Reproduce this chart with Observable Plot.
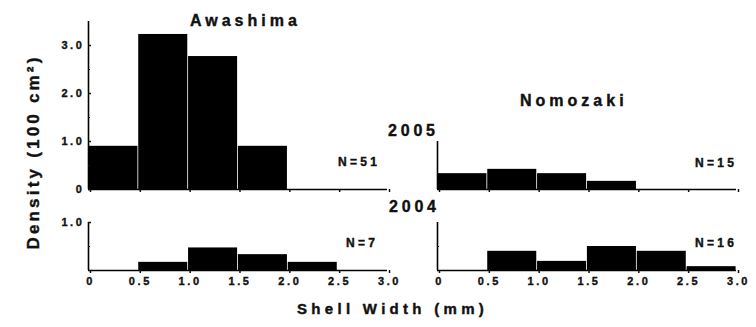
<!DOCTYPE html>
<html><head><meta charset="utf-8">
<script src="https://cdn.jsdelivr.net/npm/d3@7"></script>
<script src="https://cdn.jsdelivr.net/npm/@observablehq/plot@0.6"></script>
<style>
html,body{margin:0;padding:0;background:#fff;}
#chart{position:relative;width:756px;height:327px;overflow:hidden;font-family:"Liberation Sans",Arial,sans-serif;font-weight:bold;color:#111;background:#fff;}
#chart svg{position:absolute;overflow:visible;}
#chart svg text{stroke:#111;stroke-width:0.35px;}
.lbl{position:absolute;white-space:nowrap;line-height:1;-webkit-text-stroke:0.4px #111;}
</style></head><body><div id="chart"></div>
<script>
// ---- data ----
const binStarts = [0, 0.5, 1.0, 1.5, 2.0, 2.5];
const binWidth = 0.5;
const awashima2005 = [0.90, 3.23, 2.77, 0.90, 0, 0];
const nomozaki2005 = [0.33, 0.42, 0.33, 0.17, 0, 0];
const awashima2004 = [0, 0.17, 0.47, 0.33, 0.17, 0];
const nomozaki2004 = [0, 0.40, 0.19, 0.50, 0.40, 0.08];
const xTicks = [0, 0.5, 1.0, 1.5, 2.0, 2.5, 3.0];
const xTickLabels = ["0", "0.5", "1.0", "1.5", "2.0", "2.5", "3.0"];
const yTicksTop = [0, 1, 2, 3];
const yTickLabelsTop = ["0", "1.0", "2.0", "3.0"];
const yMinorTop = [0.5, 1.5, 2.5];
const yTicksBottom = [1];
const yTickLabelsBottom = ["1.0"];
const yMinorBottom = [0.5];
const siteNames = ["Awashima", "Nomozaki"];
const yearNames = ["2005", "2004"];
const countLabels = ["N=51", "N=15", "N=7", "N=16"];
const xTitle = "Shell Width (mm)";
const yTitle = "Density (100 cm²)";

const chart = document.getElementById("chart");

function panel(cfg) {
  const bins = binStarts.map((s, i) => ({x1: s, x2: s + binWidth, v: cfg.values[i]})).filter(d => d.v > 0);
  const marks = [
    Plot.rectY(bins, {x1: "x1", x2: "x2", y: "v", fill: "#000", insetLeft: 0.4, insetRight: 0.4}),
    Plot.ruleY([0], {stroke: "#000", strokeWidth: 1.6}),
    Plot.ruleX([0], {stroke: "#000", strokeWidth: 1.6}),
    Plot.axisX({ticks: xTicks, tickSize: 3, tickPadding: 4, strokeWidth: 1.5, label: null, dx: 2,
      tickFormat: cfg.xLabels ? (d => xTickLabels[xTicks.indexOf(d)]) : (() => ""),
      fontSize: 11, fill: "#111"}),
  ];
  if (cfg.yTicks) {
    marks.push(Plot.axisY({ticks: cfg.yTicks, tickSize: -3, tickPadding: 7, strokeWidth: 1.5, label: null,
      tickFormat: d => cfg.yLabels ? cfg.yLabels[cfg.yTicks.indexOf(d)] : "", fontSize: 11, fill: "#111"}));
  }
  if (cfg.yMinor) {
    marks.push(Plot.axisY({ticks: cfg.yMinor, tickSize: -2, strokeWidth: 1.2, label: null, tickFormat: () => ""}));
  }
  const svg = Plot.plot({
    width: cfg.width, height: cfg.height,
    marginLeft: cfg.mL, marginRight: cfg.mR, marginTop: cfg.mT, marginBottom: cfg.mB,
    x: {domain: [0, 3], label: null},
    y: {domain: [0, cfg.yMax], label: null, axis: (cfg.yTicks || cfg.yMinor) ? undefined : null},
    style: {fontFamily: "'Liberation Sans', Arial, sans-serif", fontWeight: "bold", fontSize: "11px",
      letterSpacing: "2.6px", background: "transparent", color: "#111", overflow: "visible"},
    marks
  });
  svg.style.left = cfg.left + "px";
  svg.style.top = cfg.top + "px";
  chart.appendChild(svg);
}

panel({values: awashima2005, yMax: 3.5, left: 0, top: 0, width: 400, height: 200, mL: 88, mR: 13, mT: 21, mB: 11,
  xLabels: false, yTicks: yTicksTop, yLabels: yTickLabelsTop, yMinor: yMinorTop});
panel({values: nomozaki2005, yMax: 1.0, left: 400, top: 0, width: 356, height: 200, mL: 37, mR: 20, mT: 141, mB: 11,
  xLabels: false});
panel({values: awashima2004, yMax: 1.0, left: 0, top: 200, width: 400, height: 100, mL: 88, mR: 13, mT: 22, mB: 30,
  xLabels: true, yTicks: yTicksBottom, yLabels: yTickLabelsBottom, yMinor: yMinorBottom});
panel({values: nomozaki2004, yMax: 1.0, left: 400, top: 200, width: 356, height: 100, mL: 37, mR: 20, mT: 22, mB: 30,
  xLabels: true, yMinor: yMinorBottom});

function label(text, left, top, size, ls, extra) {
  const d = document.createElement("div");
  d.className = "lbl";
  d.textContent = text;
  d.style.left = left + "px";
  d.style.top = top + "px";
  d.style.fontSize = size + "px";
  d.style.letterSpacing = ls + "px";
  if (extra) Object.assign(d.style, extra);
  chart.appendChild(d);
}
label(siteNames[0], 190, 13, 16, 4);
label(siteNames[1], 520, 93, 16, 4);
label(yearNames[0], 388, 123, 16, 3.8);
label(yearNames[1], 389, 199, 16, 3.8);
label(countLabels[0], 338, 156, 12, 3.3);
label(countLabels[1], 695, 157, 12, 3.3);
label(countLabels[2], 346, 237, 12, 3.3);
label(countLabels[3], 695, 237, 12, 3.3);
label(xTitle, 297, 301, 15, 4.3);
label(yTitle, 33, 152, 17, 3.2, {transform: "translate(-50%,-50%) rotate(-90deg)"});
</script></body></html>
